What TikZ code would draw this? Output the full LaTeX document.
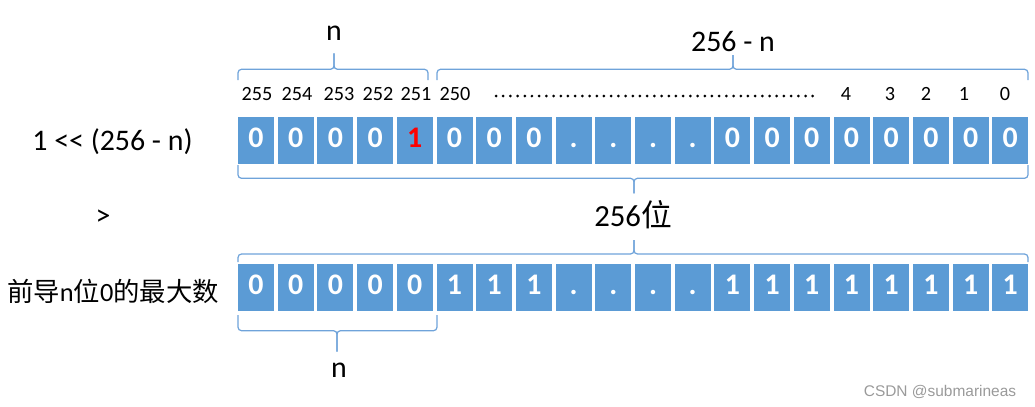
\documentclass[tikz,border=0pt]{standalone}
\usepackage{fontspec}
\setmainfont{Carlito}
\newfontfamily\cjk{Noto Sans CJK SC}
\newfontfamily\wmfont{Liberation Sans}

\definecolor{cellblue}{HTML}{5B9BD5}
\definecolor{bracecol}{HTML}{6FA3DA}
\definecolor{wmgray}{HTML}{9A9A9A}

\tikzset{
	bitcell/.style={fill=cellblue, text=white, minimum width=0.72cm, minimum height=0.94cm,
		inner sep=0pt, text height=7.9pt, text depth=0pt, font=\fontsize{17}{17}\selectfont\bfseries},
	idxlabel/.style={inner sep=0pt, anchor=base, font=\fontsize{11.5}{12}\selectfont},
	biglabel/.style={inner sep=0pt, font=\fontsize{17}{18}\selectfont},
	bitbrace/.style={draw=bracecol, line width=0.7pt, rounded corners=0.07cm},
}

\begin{document}
\begin{tikzpicture}[x=0.02cm, y=-0.02cm]

		\useasboundingbox (0,0) rectangle (1035,406);

		% --- Bit Rows ---
		% 1 << (256 - n)
		\foreach \bit [count=\i from 0] in {0,0,0,0,{\textcolor{red}{1}},0,0,0,.,.,.,.,0,0,0,0,0,0,0,0} {
			\node[bitcell] (t\i) at ({256+39.7*\i}, 140.5) {\bit};
		}
		% max number with n leading zeros
		\foreach \bit [count=\i from 0] in {0,0,0,0,0,1,1,1,.,.,.,.,1,1,1,1,1,1,1,1} {
			\node[bitcell] (b\i) at ({256+39.7*\i}, 287.5) {\bit};
		}

		% --- Bit Indices ---
		\foreach \x/\label in {257/255, 297/254, 339/253, 378/252, 416/251, 455/250,
			846/4, 890/3, 926/2, 964/1, 1005/0} {
			\node[idxlabel] (idx\label) at (\x, 100) {\label};
		}
		\draw[line width=0.06cm, line cap=round, dash pattern=on 0pt off 0.144cm] (496,96) -- (815,96);

		% --- Braces ---
		% x left / x right / x tip / y line / y ends / y tip
		\foreach \xa/\xb/\xm/\yl/\ye/\yt in {238/428/334/69.3/80/53.3, 437/1028/733/69.3/80/55,
			238/1028/634/178.3/165/193.3, 238/1028/634/254/262/240, 238/437/337/330.7/315/351.7} {
			\draw[bitbrace] (\xa,\ye) |- (\xm,\yl) -- (\xm,\yt);
			\draw[bitbrace] (\xb,\ye) |- (\xm,\yl) -- (\xm,\yt);
		}

		% --- Brace Labels ---
		\node[biglabel, anchor=base] (ntop) at (334, 40.7) {n};
		\node[biglabel, anchor=base] (resttop) at (733, 51.7) {256 - n};
		\node[biglabel, anchor=base, font=\fontsize{17.5}{18}\selectfont] (total) at (633, 226.7) {256{\cjk 位}};
		\node[biglabel, anchor=base] (nbottom) at (339, 377.7) {n};

		% --- Row Labels ---
		\node[biglabel, anchor=base] (shiftlabel) at (112.5, 150.7) {1 {<}{<} (256 - n)};
		\node[biglabel] (gtlabel) at (103, 218) {>};
		\node[biglabel, font=\fontsize{15}{16}\selectfont] (maxlabel) at (113, 291)
			{{\cjk 前导}n{\cjk 位}0{\cjk 的最大数}};

		% --- Watermark ---
		\node[inner sep=0pt, anchor=base, text=wmgray, font=\wmfont\fontsize{8.8}{10}\selectfont]
			(watermark) at (940, 396) {CSDN @submarineas};

	\end{tikzpicture}
\end{document}
